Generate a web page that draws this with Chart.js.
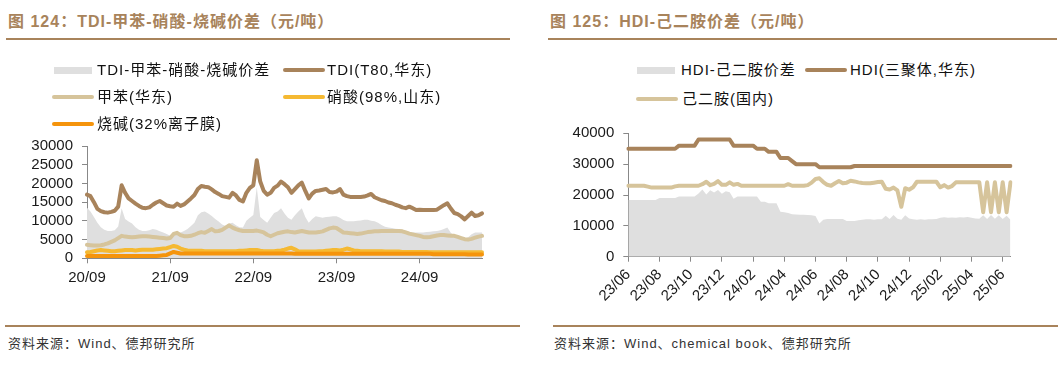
<!DOCTYPE html>
<html lang="zh">
<head>
<meta charset="utf-8">
<title>TDI / HDI 价差</title>
<script src="https://cdn.jsdelivr.net/npm/chart.js@4.4.1/dist/chart.umd.min.js"></script>
<style>
  body { margin:0; width:1063px; height:366px; background:#fff; position:relative; overflow:hidden;
         font-family:"Liberation Sans", Arial, "Noto Sans CJK SC", sans-serif; color:#111; }
  .title { position:absolute; font-size:16px; font-weight:bold; color:#a8835b; letter-spacing:1px; line-height:20px; white-space:nowrap; }
  .rule { position:absolute; height:2px; background:#a8835b; }
  .src { position:absolute; font-size:13px; color:#333; line-height:18px; letter-spacing:1px; white-space:nowrap; }
  canvas { position:absolute; }
  .lg-text { position:absolute; font-size:15px; line-height:20px; white-space:nowrap; letter-spacing:1px; color:#111; }
  .lg-swatch { position:absolute; }
</style>
</head>
<body>
<div class="title" style="left:8px; top:12px">图 124：TDI-甲苯-硝酸-烧碱价差（元/吨）</div>
<div class="rule" style="left:6px; top:38px; width:504px"></div>
<canvas id="c1" width="500" height="175" style="left:0; top:128px"></canvas>
<div class="rule" style="left:5px; top:325px; width:515px"></div>
<div class="src" style="left:8px; top:335px">资料来源：Wind、德邦研究所</div>

<div class="title" style="left:550px; top:12px">图 125：HDI-己二胺价差（元/吨）</div>
<div class="rule" style="left:548px; top:38px; width:509px"></div>
<canvas id="c2" width="490" height="210" style="left:540px; top:115px"></canvas>
<div class="rule" style="left:553px; top:325px; width:505px"></div>
<div class="src" style="left:554px; top:335px">资料来源：Wind、chemical book、德邦研究所</div>

<script>
// ---- TDI chart data (semi-monthly, 2020/09 -> 2025/06) ----
const tdiTickLabels = ['20/09', '21/09', '22/09', '23/09', '24/09'];

const tdiSpread = [
  13500,12500,11000,9500,8300,7600,7300,7300,7500,8500,
  13400,10500,9800,9300,8300,7600,7300,7300,7500,7800,
  7600,7200,6900,6500,6000,6200,6500,6900,7300,7800,
  8600,9500,11500,12300,12500,12000,11300,10500,9800,9000,
  8600,9300,9500,8800,8300,8200,10000,10800,11600,19000,
  11000,10200,9500,10800,12100,12500,13400,12000,10800,10300,
  11500,12500,13400,11000,9500,10500,11200,11000,10800,11000,
  11100,11200,11200,10800,10200,9900,9900,9900,10000,10100,
  10300,10300,10000,9900,9500,8900,8400,8200,8100,7900,
  7800,7600,7300,7100,6900,6900,6900,6900,7000,7100,
  7200,7300,7500,7800,8200,6800,6000,5800,5500,5200,
  5600,6400,6900,6900,6900
];
const tdiPrice = [
  17000,16600,15000,13200,12600,12300,12200,12400,12700,13800,
  19500,17500,16000,15300,14600,14000,13500,13400,13600,14300,
  14900,15300,14700,14100,13900,13800,14600,14000,14400,15200,
  16000,16900,18500,19300,19100,19000,18400,17700,17200,16600,
  16400,16200,17500,16800,15600,15200,17500,18800,19500,26200,
  20500,18000,17000,17500,18800,19400,20500,19800,19000,17500,
  18500,19500,20200,18000,16000,17300,18000,18100,18300,18500,
  17700,17600,17800,18500,17000,16600,16400,16400,16400,16400,
  16500,16800,17200,16300,15900,15500,15300,14900,14700,14300,
  14000,13600,13400,13800,13400,12900,13000,12900,12900,12900,
  12900,13000,13600,14200,14700,13300,12100,11800,11200,10400,
  11300,12200,11300,11500,12000
];
const toluenePrice = [
  3600,3500,3400,3400,3500,3700,4000,4400,4800,5400,
  6000,5800,5700,5600,5700,5800,5900,5900,5800,5700,
  5600,5500,5400,5300,5400,6500,6800,6200,5900,5900,
  6000,6300,6700,7000,6800,7300,7800,7200,7300,7600,
  8200,8800,8200,7800,7500,7300,7300,7300,7300,7400,
  7200,6900,6300,5900,6300,6700,6900,7100,7200,7000,
  6900,7100,7300,7100,6900,6900,6900,7000,7200,7600,
  8000,8200,8100,7500,6900,6800,6700,6600,6500,6600,
  6800,7000,7100,7200,7200,7300,7300,7300,7300,7300,
  7300,7200,6900,6600,6400,6200,6000,5700,5600,5700,
  5900,6100,6200,6200,6100,6000,6000,5700,5400,5100,
  5000,5200,5500,5800,6000
];
const nitricPrice = [
  1600,1700,1900,2100,2200,2100,2000,1900,1900,2000,
  2100,2200,2200,2200,2100,2200,2300,2300,2300,2300,
  2400,2500,2600,2700,3000,3300,3100,2600,2300,2100,
  2000,2000,2000,2000,1900,1900,1900,1900,1900,1900,
  1900,1900,1900,1900,2000,2000,2100,2200,2200,2200,
  2000,1900,1900,1900,1900,2000,2100,2300,2600,2800,
  2400,1900,1800,1800,1800,1800,1800,1900,1900,2000,
  2100,2200,2200,2100,2300,2600,2400,2100,2000,1900,
  1900,1900,1900,1900,1900,1900,1800,1800,1800,1800,
  1800,1700,1700,1700,1700,1700,1700,1700,1700,1600,
  1600,1600,1600,1600,1600,1600,1600,1600,1600,1600,
  1600,1600,1600,1600,1600
];
const causticPrice = [
  600,600,600,600,600,600,600,600,600,600,
  600,600,600,600,600,600,600,600,600,600,
  600,700,800,900,1300,1700,1500,1300,1300,1300,
  1300,1300,1300,1300,1300,1300,1300,1300,1300,1300,
  1300,1300,1300,1300,1300,1300,1300,1300,1300,1300,
  1300,1300,1300,1300,1300,1300,1300,1300,1300,1300,
  1200,1200,1200,1200,1200,1200,1200,1200,1200,1200,
  1200,1200,1200,1200,1200,1200,1200,1200,1200,1200,
  1200,1200,1200,1200,1200,1200,1200,1200,1200,1200,
  1200,1200,1200,1200,1200,1200,1200,1200,1200,1200,
  1100,1100,1100,1100,1100,1100,1100,1100,1100,1100,
  1000,1000,1000,1000,1000
];

// ---- HDI chart data (quarter-monthly, 2023/06 -> 2025/07) ----
const hdiTickLabels = ['23/06','23/08','23/10','23/12','24/02','24/04','24/06','24/08','24/10','24/12','25/02','25/04','25/06'];

const hdiSpread = [
  18400,18400,18400,18400,18400,18400,18400,18400,19000,19000,
  19000,19000,19000,19500,19500,19500,19500,19500,20500,21800,
  20200,21500,20800,21600,20400,21200,20900,18800,19500,19500,
  19500,19500,19500,19500,17800,17800,17300,17300,17300,14600,
  14400,14200,13800,13700,13600,13600,13500,13400,13200,10800,
  12000,12200,12200,12200,12200,12200,11600,11600,11600,11800,
  12000,12100,12100,12000,12100,12100,13300,12200,13500,12300,
  12000,13400,12400,12100,12000,12100,12000,12100,12100,12200,
  12600,12800,12600,12700,12600,12800,12700,12900,12600,12400,
  12300,13400,12200,13500,12300,13400,12200,13300,12000
];
const hdiPrice = [
  35000,35000,35000,35000,35000,35000,35000,35000,35000,35000,
  35000,35000,35000,36000,36000,36000,36000,36000,38000,38000,
  38000,38000,38000,38000,38000,38000,38000,36000,36000,36000,
  36000,36000,36000,35000,35000,35000,34000,34000,34000,32000,
  32000,32000,31000,30000,30000,30000,30000,30000,30000,29000,
  29000,29000,29000,29000,29000,29000,29000,29000,29400,29400,
  29400,29400,29400,29400,29400,29400,29400,29400,29400,29400,
  29400,29400,29400,29400,29400,29400,29400,29400,29400,29400,
  29400,29400,29400,29400,29400,29400,29400,29400,29400,29400,
  29400,29400,29400,29400,29400,29400,29400,29400,29400
];
const hmdaPrice = [
  23000,23000,23000,23000,23000,22700,22400,22400,22400,22400,
  22400,22400,22800,23000,23000,23000,23000,23000,23000,23500,
  24300,23200,23600,24500,23300,23300,24100,23300,23600,23000,
  23000,23000,23000,23000,23000,23000,23000,23000,23000,23000,
  23000,23500,23000,23000,23000,23000,23200,24000,25200,25400,
  24200,23300,23000,23800,24500,23800,24000,24600,24400,24100,
  23900,23800,23800,24000,24200,24300,22000,21800,22400,21500,
  16200,22200,21700,22500,24300,24300,24300,24300,24300,24300,
  22500,23200,22400,22900,24100,24100,24100,24100,24100,24100,
  24100,14400,24100,14400,24100,14400,24100,14400,24100
];

const BROWN = '#a8835b', BEIGE = '#d6c49b', YELLOW = '#f5b932', ORANGE = '#f5940c', GREY = '#dfdfdf';

// category dates: start year/month, number of points, days used inside each month
function buildDates(year, month, count, days) {
  const out = [];
  for (let i = 0; i < count; i++) {
    const m = month - 1 + Math.floor(i / days.length);
    const y = year + Math.floor(m / 12);
    const mm = String(m % 12 + 1).padStart(2, '0');
    out.push(`${y}-${mm}-${days[i % days.length]}`);
  }
  return out;
}
const tdiDates = buildDates(2020, 9, tdiPrice.length, ['01', '16']);
const hdiDates = buildDates(2023, 6, hdiPrice.length, ['01', '08', '16', '23']);

function shortLabel(d) { return d.slice(2, 4) + '/' + d.slice(5, 7); }
function majorLabel(dates, ticks, i) {
  const d = dates[i];
  if (!d || !d.endsWith('-01')) return '';
  const s = shortLabel(d);
  return ticks.includes(s) ? s : '';
}

Chart.defaults.font.family = '"Liberation Sans", Arial, "Noto Sans CJK SC", sans-serif';
Chart.defaults.font.size = 15;
Chart.defaults.color = '#1a1a1a';

function lineSet(label, data, color, order) {
  return { label, data, borderColor: color, backgroundColor: color, borderWidth: 4, pointRadius: 0,
           fill: false, tension: 0, borderJoinStyle: 'round', borderCapStyle: 'round', order };
}
function areaSet(label, data) {
  return { label, data, borderColor: 'rgba(0,0,0,0)', backgroundColor: GREY, borderWidth: 0, pointRadius: 0,
           fill: 'origin', tension: 0, order: 9 };
}

function chartOptions(cfg) {
  return {
    responsive: false,
    animation: false,
    events: [],
    layout: { padding: cfg.padding },
    plugins: { legend: { display: false }, tooltip: { enabled: false } },
    scales: {
      x: {
        offset: false,
        afterFit: s => { s.height = cfg.xHeight; },
        border: { display: true, color: '#888', width: 1 },
        grid: {
          drawOnChartArea: false, drawTicks: true, tickLength: 5,
          color: ctx => majorLabel(cfg.dates, cfg.ticks, ctx.index) ? '#888' : 'rgba(0,0,0,0)'
        },
        ticks: {
          autoSkip: false, minRotation: cfg.rotation, maxRotation: cfg.rotation, padding: cfg.xPad,
          callback: (v, i) => majorLabel(cfg.dates, cfg.ticks, i)
        }
      },
      y: {
        min: 0, max: cfg.yMax,
        afterFit: s => { s.width = cfg.yWidth; },
        border: { display: true, color: '#888', width: 1 },
        grid: { drawOnChartArea: false, drawTicks: true, tickLength: 5, color: '#888' },
        ticks: { stepSize: cfg.yStep, padding: 9, autoSkip: false, callback: v => String(v) }
      }
    }
  };
}

function drawLegend(chart, slots) {
  chart.data.datasets.forEach((ds, i) => {
    const s = slots[i];
    const sw = document.createElement('div');
    sw.className = 'lg-swatch';
    if (ds.fill) {
      sw.style.cssText = `left:${s.x}px;top:${s.y - 3.5}px;width:38px;height:7px;background:${ds.backgroundColor}`;
    } else {
      sw.style.cssText = `left:${s.x}px;top:${s.y - 2}px;width:42px;height:4px;border-radius:2px;background:${ds.borderColor}`;
    }
    document.body.appendChild(sw);
    const tx = document.createElement('div');
    tx.className = 'lg-text';
    tx.textContent = ds.label;
    tx.style.left = s.tx + 'px';
    tx.style.top = (s.y - 10) + 'px';
    document.body.appendChild(tx);
  });
}

const tdiChart = new Chart(document.getElementById('c1'), {
  type: 'line',
  data: {
    labels: tdiDates,
    datasets: [
      areaSet('TDI-甲苯-硝酸-烧碱价差', tdiSpread),
      lineSet('TDI(T80,华东)', tdiPrice, BROWN, 1),
      lineSet('甲苯(华东)', toluenePrice, BEIGE, 2),
      lineSet('硝酸(98%,山东)', nitricPrice, YELLOW, 4),
      lineSet('烧碱(32%离子膜)', causticPrice, ORANGE, 3)
    ]
  },
  options: chartOptions({
    padding: { left: 0, right: 18, top: 14.3, bottom: 14.7 },
    xHeight: 30, yWidth: 87, yMax: 30000, yStep: 5000,
    rotation: 0, xPad: 6, dates: tdiDates, ticks: tdiTickLabels
  })
});

const hdiChart = new Chart(document.getElementById('c2'), {
  type: 'line',
  data: {
    labels: hdiDates,
    datasets: [
      areaSet('HDI-己二胺价差', hdiSpread),
      lineSet('HDI(三聚体,华东)', hdiPrice, BROWN, 1),
      lineSet('己二胺(国内)', hmdaPrice, BEIGE, 2)
    ]
  },
  options: chartOptions({
    padding: { left: 0, right: 19.5, top: 18.3, bottom: 13.3 },
    xHeight: 55, yWidth: 88.3, yMax: 40000, yStep: 10000,
    rotation: 45, xPad: 4, dates: hdiDates, ticks: hdiTickLabels
  })
});

drawLegend(tdiChart, [
  { x: 54, tx: 97, y: 70 }, { x: 283, tx: 327, y: 70 },
  { x: 52, tx: 97, y: 97 }, { x: 283, tx: 327, y: 97 },
  { x: 52, tx: 97, y: 124 }
]);
drawLegend(hdiChart, [
  { x: 637, tx: 681, y: 70 }, { x: 805, tx: 850, y: 70 },
  { x: 636, tx: 682, y: 99 }
]);
</script>
</body>
</html>
